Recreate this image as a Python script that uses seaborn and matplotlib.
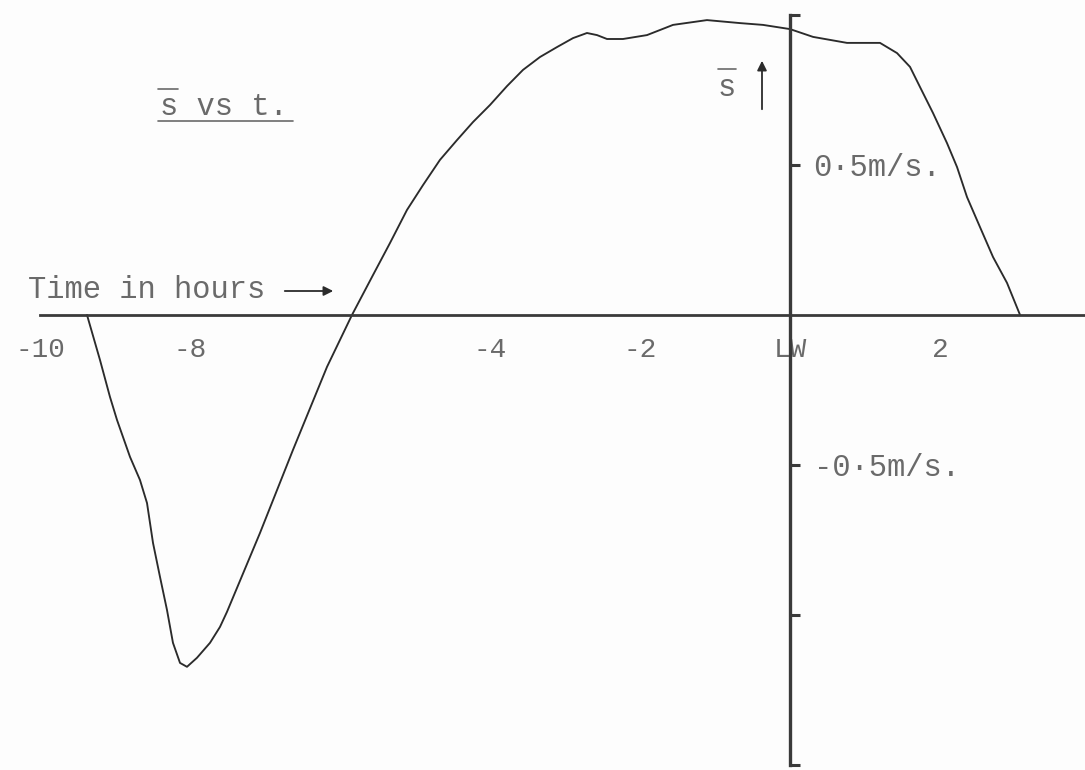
import matplotlib
matplotlib.use("Agg")
import matplotlib.pyplot as plt
from matplotlib.lines import Line2D
import pandas as pd
import seaborn as sns

# Mean speed s-bar (m/s) against time in hours relative to low water (LW)
hours = [-9.373, -9.2, -9.067, -8.973, -8.8, -8.667, -8.573, -8.493, -8.4,
         -8.307, -8.227, -8.133, -8.04, -7.907, -7.733, -7.6, -7.507, -7.067,
         -6.627, -6.173, -5.84, -5.56, -5.333, -5.107, -4.893, -4.667, -4.44,
         -4.227, -4.0, -3.773, -3.56, -3.333, -3.107, -2.893, -2.707, -2.573,
         -2.44, -2.227, -1.907, -1.733, -1.56, -1.107, -0.667, -0.36, 0.0,
         0.307, 0.76, 1.2, 1.427, 1.6, 1.733, 1.907, 2.093, 2.227, 2.36,
         2.533, 2.707, 2.893, 3.067]
speed = [0.0, -0.15, -0.273, -0.35, -0.473, -0.55, -0.627, -0.76, -0.873,
         -0.983, -1.093, -1.16, -1.173, -1.143, -1.093, -1.04, -0.99, -0.727,
         -0.45, -0.173, 0.0, 0.133, 0.24, 0.35, 0.433, 0.517, 0.583,
         0.643, 0.7, 0.763, 0.817, 0.86, 0.893, 0.923, 0.94, 0.933,
         0.92, 0.92, 0.933, 0.95, 0.967, 0.983, 0.973, 0.967, 0.953,
         0.927, 0.907, 0.907, 0.873, 0.827, 0.76, 0.673, 0.573, 0.493, 0.393,
         0.293, 0.193, 0.107, 0.0]

x_ticks = [-10, -8, -6, -4, -2, 0, 2]
x_tick_labels = ["-10", "-8", "", "-4", "-2", "LW", "2"]
y_ticks = [-1.5, -1.0, -0.5, 0.5, 1.0]
y_tick_labels = ["", "", "-0\u00b75m/s.", "0\u00b75m/s.", ""]

title_text = "s vs t."
x_caption = "Time in hours"
y_caption = "s"

sns.set_style("white")
plt.rcParams["font.family"] = ["Liberation Mono", "DejaVu Sans Mono"]

INK = "#2b2b2b"
AXIS = "#3a3a3a"
TYPE = "#6a6a6a"
W, H = 1085, 770

fig = plt.figure(figsize=(W / 100, H / 100), dpi=100, facecolor="#fdfdfd")
ax = fig.add_axes([0, 0, 1, 1])
ax.set_facecolor("#fdfdfd")

df = pd.DataFrame({"t": hours, "s": speed})
sns.lineplot(data=df, x="t", y="s", ax=ax, color=INK, lw=1.35, sort=False)

ax.set_xlim(-10.533, 3.933)
ax.set_ylim(-1.517, 1.05)
ax.set_xlabel("")
ax.set_ylabel("")

# Cross-shaped axes through the origin
for side in ("left", "bottom", "right"):
    ax.spines[side].set_position(("data", 0))
ax.spines["top"].set_visible(False)
ax.spines["right"].set_visible(False)
ax.spines["left"].set_color(AXIS)
ax.spines["left"].set_linewidth(2.4)
ax.spines["left"].set_bounds(-1.5, 1.0)
ax.spines["bottom"].set_color(AXIS)
ax.spines["bottom"].set_linewidth(2.0)
ax.spines["bottom"].set_bounds(-10, 3.933)

ax.set_xticks(x_ticks)
ax.set_xticklabels(x_tick_labels)
ax.tick_params(axis="x", direction="out", length=10, width=2.2, color=AXIS,
               pad=6, labelsize=20, labelcolor=TYPE)

ax.yaxis.set_ticks_position("right")
ax.set_yticks(y_ticks)
ax.set_yticklabels(y_tick_labels)
ax.tick_params(axis="y", direction="out", length=7, width=2.2, color=AXIS,
               pad=10, labelsize=22, labelcolor=TYPE)


def fx(x):
    return x / W


def fy(y):
    return 1 - y / H


def rule(x0, x1, y, lw=1.2):
    fig.add_artist(Line2D([fx(x0), fx(x1)], [fy(y), fy(y)],
                          transform=fig.transFigure, color=TYPE, lw=lw))


# Title with overbar on s and underline
fig.text(fx(160), fy(115), title_text, fontsize=22, color=TYPE,
         va="baseline", ha="left")
rule(158, 178, 89)
rule(158, 293, 121)

# Vertical axis caption with upward arrow
fig.text(fx(718), fy(96), y_caption, fontsize=22, color=TYPE,
         va="baseline", ha="left")
rule(718, 736, 69)
ax.annotate("", xy=(fx(762), fy(58)), xytext=(fx(762), fy(112)),
            xycoords="figure fraction", textcoords="figure fraction",
            arrowprops=dict(arrowstyle="-|>", color=INK, lw=1.3,
                            mutation_scale=14))

# Horizontal axis caption with arrow
fig.text(fx(28), fy(298), x_caption, fontsize=22, color=TYPE,
         va="baseline", ha="left")
ax.annotate("", xy=(fx(336), fy(291)), xytext=(fx(282), fy(291)),
            xycoords="figure fraction", textcoords="figure fraction",
            arrowprops=dict(arrowstyle="-|>", color=INK, lw=1.3,
                            mutation_scale=14))

fig.savefig("out.png", dpi=100, facecolor=fig.get_facecolor())
